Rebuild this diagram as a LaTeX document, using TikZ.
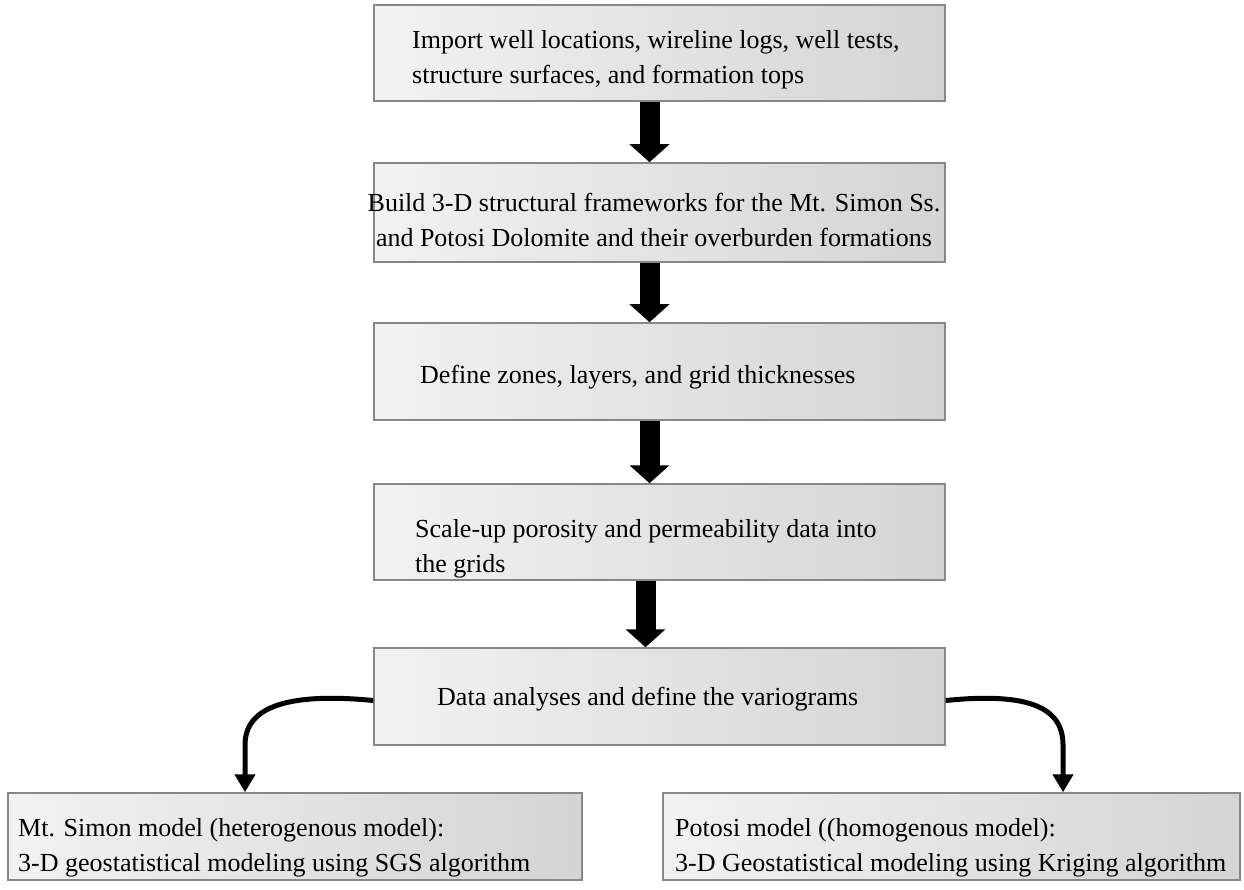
\documentclass[tikz,border=0pt]{standalone}
\usepackage{fontspec}
\setmainfont{Liberation Serif}
\usetikzlibrary{arrows.meta,calc}
\definecolor{boxline}{RGB}{135,135,135}
\definecolor{shadeL}{RGB}{242,242,242}
\definecolor{shadeR}{RGB}{212,212,212}
\begin{document}
\begin{tikzpicture}[x=1pt,y=-1pt,
  box/.style={draw=boxline, line width=1.5pt, left color=shadeL, right color=shadeR, inner sep=0pt, rectangle},
  txt/.style={inner sep=0pt, align=left, font=\fontsize{26}{35}\selectfont, text=black},
  bigarrow/.style={line width=20pt, -{Triangle[length=18pt,width=39pt]}},
  curvearrow/.style={line width=5pt, -{Triangle[length=18pt,width=20pt]}}]
\useasboundingbox (0,0) rectangle (1244,890);
% boxes
\node[box, minimum width=571pt, minimum height=96pt] (b1) at (659.5,53) {};
\node[box, minimum width=571pt, minimum height=99pt] (b2) at (659.5,212.5) {};
\node[box, minimum width=571pt, minimum height=97pt] (b3) at (659.5,371.5) {};
\node[box, minimum width=571pt, minimum height=96pt] (b4) at (659.5,532) {};
\node[box, minimum width=571pt, minimum height=97pt] (b5) at (659.5,696.5) {};
\node[box, minimum width=574pt, minimum height=87pt] (b6) at (295,836.5) {};
\node[box, minimum width=577pt, minimum height=87pt] (b7) at (951.5,836.5) {};
% texts
\node[txt, anchor=west] (t1) at (412,60) {Import well locations, wireline logs, well tests,\\structure surfaces, and formation tops};
\node[txt, anchor=center, align=center] (t2) at (654,220) {Build 3-D structural frameworks for the Mt. Simon Ss.\\and Potosi Dolomite and their overburden formations};
\node[txt, anchor=west] (t3) at (420,377) {Define zones, layers, and grid thicknesses};
\node[txt, anchor=west] (t4) at (415,549) {Scale-up porosity and permeability data into\\the grids};
\node[txt, anchor=west] (t5) at (437,699) {Data analyses and define the variograms};
\node[txt, anchor=west] (t6) at (18,848) {Mt. Simon model (heterogenous model):\\3-D geostatistical modeling using SGS algorithm};
\node[txt, anchor=west] (t7) at (675,848) {Potosi model ((homogenous model):\\3-D Geostatistical modeling using Kriging algorithm};
% straight arrows
\draw[bigarrow] ([xshift=-10pt]b1.south) -- ([xshift=-10pt]b2.north);
\draw[bigarrow] ([xshift=-10pt]b2.south) -- ([xshift=-10pt]b3.north);
\draw[bigarrow] ([xshift=-10pt]b3.south) -- ([xshift=-10pt]b4.north);
\draw[bigarrow] ([xshift=-14pt]b4.south) -- ([xshift=-14pt]b5.north);
% curved arrows
\coordinate (cl) at ([yshift=-4pt]b5.west);
\coordinate (cr) at ([yshift=-4pt]b5.east);
\draw[curvearrow] (cl) .. controls (285,692) and (245,708) .. (245,745) -- ([xshift=-50pt]b6.north);
\draw[curvearrow] (cr) .. controls (1030,692) and (1063,708) .. (1063,745) -- ([xshift=111.5pt]b7.north);
\end{tikzpicture}
\end{document}
